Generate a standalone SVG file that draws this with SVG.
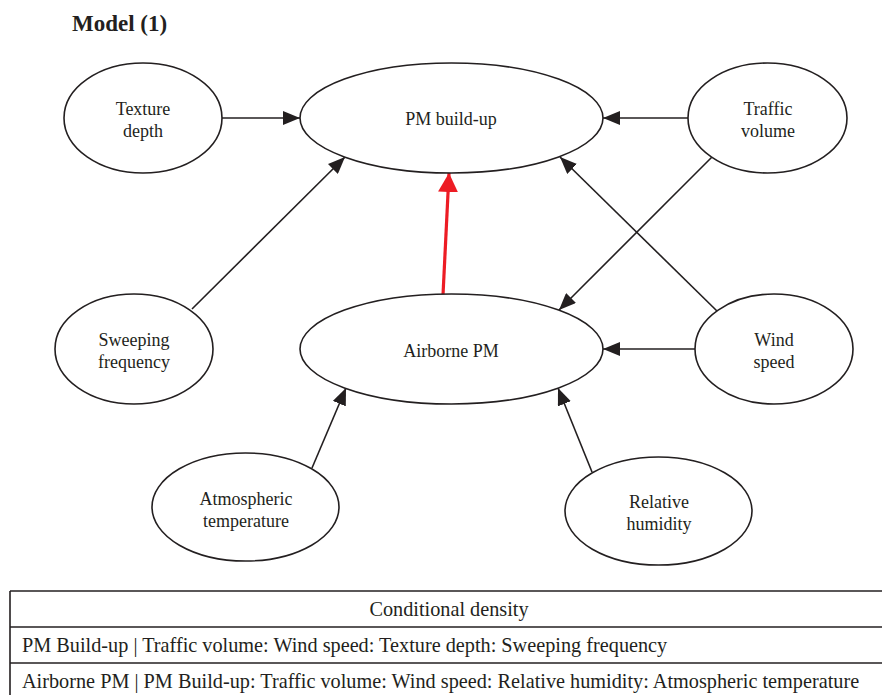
<svg xmlns="http://www.w3.org/2000/svg" width="882" height="695" viewBox="0 0 882 695">
<style>
.n{fill:#fff;stroke:#231f20;stroke-width:1.6}
.t{font-family:"Liberation Serif","Times New Roman",serif;font-size:18px;fill:#231f20;text-anchor:middle}
.e{stroke:#231f20;stroke-width:1.6;fill:none;marker-end:url(#ah)}
.r{stroke:#ed1c24;stroke-width:3.2;fill:none;marker-end:url(#rh)}
.tb{font-family:"Liberation Serif","Times New Roman",serif;font-size:20.25px;fill:#231f20}
.ln{stroke:#231f20;stroke-width:1.6}
</style>
<defs>
<marker id="ah" markerUnits="userSpaceOnUse" markerWidth="18" markerHeight="14" refX="17" refY="7" orient="auto"><path d="M0,0 L17,7 L0,14 z" fill="#231f20"/></marker>
<marker id="rh" markerUnits="userSpaceOnUse" markerWidth="20" markerHeight="20" refX="19" refY="10" orient="auto"><path d="M0,0 L19,10 L0,20 z" fill="#ed1c24"/></marker>
</defs>
<rect width="882" height="695" fill="#fff"/>
<text x="72" y="31" font-family="Liberation Serif,'Times New Roman',serif" font-weight="bold" font-size="23" fill="#231f20">Model (1)</text>
<g id="connectors">
<line class="e" x1="222" y1="118" x2="300" y2="118"/>
<line class="e" x1="688" y1="118" x2="603" y2="118"/>
<line class="e" x1="192" y1="309" x2="345" y2="157"/>
<line class="e" x1="712" y1="157" x2="559" y2="310"/>
<line class="e" x1="718" y1="312" x2="560" y2="157"/>
<line class="e" x1="695" y1="349" x2="603" y2="349"/>
<line class="e" x1="312" y1="468" x2="346" y2="388"/>
<line class="e" x1="592" y1="472" x2="558" y2="388"/>
<line class="r" x1="443" y1="295" x2="449" y2="173"/>
</g>
<g id="texture"><ellipse class="n" cx="143" cy="118" rx="79" ry="55"/><text class="t" x="143" y="115">Texture</text><text class="t" x="143" y="137">depth</text></g>
<g id="pmbuild"><ellipse class="n" cx="451.5" cy="118" rx="151.5" ry="55"/><text class="t" x="451" y="125">PM build-up</text></g>
<g id="traffic"><ellipse class="n" cx="767.5" cy="118" rx="79.5" ry="55"/><text class="t" x="768" y="115">Traffic</text><text class="t" x="768" y="137">volume</text></g>
<g id="sweeping"><ellipse class="n" cx="134" cy="349" rx="79" ry="55"/><text class="t" x="134" y="346">Sweeping</text><text class="t" x="134" y="368">frequency</text></g>
<g id="airborne"><ellipse class="n" cx="451.5" cy="349" rx="151.5" ry="55"/><text class="t" x="451" y="357">Airborne PM</text></g>
<g id="wind"><ellipse class="n" cx="774" cy="349" rx="79" ry="55"/><text class="t" x="774" y="346">Wind</text><text class="t" x="774" y="368">speed</text></g>
<g id="atmos"><ellipse class="n" cx="245.5" cy="507" rx="93.5" ry="54"/><text class="t" x="246" y="505">Atmospheric</text><text class="t" x="246" y="527">temperature</text></g>
<g id="humidity"><ellipse class="n" cx="658.5" cy="511" rx="93.5" ry="54"/><text class="t" x="659" y="508">Relative</text><text class="t" x="659" y="530">humidity</text></g>
<g id="table">
<line class="ln" x1="10" y1="591" x2="882" y2="591"/>
<line class="ln" x1="10" y1="627" x2="882" y2="627"/>
<line class="ln" x1="10" y1="663" x2="882" y2="663"/>
<line class="ln" x1="10" y1="591" x2="10" y2="695"/>
<text class="tb" x="449" y="616" text-anchor="middle">Conditional density</text>
<text class="tb" x="22" y="652">PM Build-up | Traffic volume: Wind speed: Texture depth: Sweeping frequency</text>
<text class="tb" x="22" y="688">Airborne PM | PM Build-up: Traffic volume: Wind speed: Relative humidity: Atmospheric temperature</text>
</g>
</svg>
